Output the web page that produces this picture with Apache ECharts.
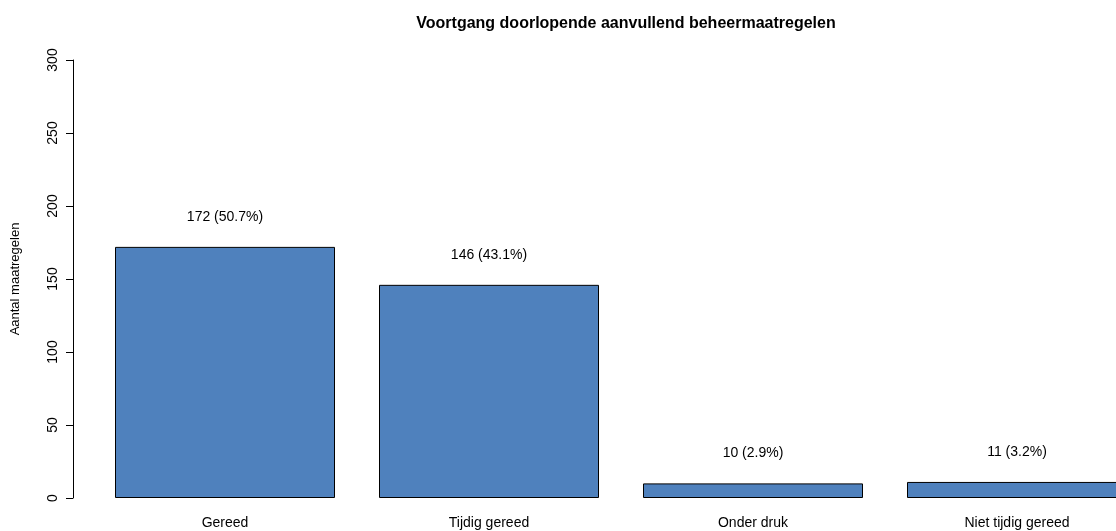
<!DOCTYPE html>
<html>
<head>
<meta charset="utf-8">
<script src="https://cdn.jsdelivr.net/npm/echarts@6/dist/echarts.min.js"></script>
<style>html,body{margin:0;padding:0;background:#fff;}#chart{width:1116px;height:531px;}</style>
</head>
<body>
<div id="chart"></div>
<script>
var categories = ['Gereed', 'Tijdig gereed', 'Onder druk', 'Niet tijdig gereed'];
var counts = [172, 146, 10, 11];
var percents = ['50.7', '43.1', '2.9', '3.2'];
var yTicks = [0, 50, 100, 150, 200, 250, 300];

var chart = echarts.init(document.getElementById('chart'));
var font = 'Liberation Sans, Arial, sans-serif';
chart.setOption({
  animation: false,
  backgroundColor: '#ffffff',
  title: {
    text: 'Voortgang doorlopende aanvullend beheermaatregelen',
    left: 621, top: 11, textAlign: 'center',
    textStyle: { fontFamily: font, fontSize: 16, fontWeight: 'bold', color: '#000' }
  },
  grid: { left: 93, top: 60, right: -33, bottom: 33, containLabel: false, outerBoundsMode: 'none' },
  xAxis: {
    type: 'category',
    data: categories,
    axisLine: { show: false },
    axisTick: { show: false },
    axisLabel: { fontFamily: font, fontSize: 14, color: '#000', margin: 18, interval: 0 }
  },
  yAxis: {
    type: 'value',
    min: yTicks[0], max: yTicks[yTicks.length - 1], interval: 50,
    offset: 20,
    name: 'Aantal maatregelen',
    nameLocation: 'middle',
    nameGap: 51,
    nameTextStyle: { fontFamily: font, fontSize: 13, color: '#000' },
    axisLine: { show: true, lineStyle: { color: '#000', width: 1 } },
    axisTick: { show: true, length: 7, lineStyle: { color: '#000' } },
    splitLine: { show: false },
    axisLabel: { fontFamily: font, fontSize: 14, color: '#000', rotate: 90, margin: 13 }
  },
  series: [{
    type: 'bar',
    data: counts,
    barWidth: 220,
    itemStyle: { color: '#4F81BD', borderColor: '#000', borderWidth: 1 },
    label: {
      show: true, position: 'top', distance: 23,
      fontFamily: font, fontSize: 14, color: '#000',
      formatter: function (p) { return counts[p.dataIndex] + ' (' + percents[p.dataIndex] + '%)'; }
    }
  }]
});
</script>
</body>
</html>
